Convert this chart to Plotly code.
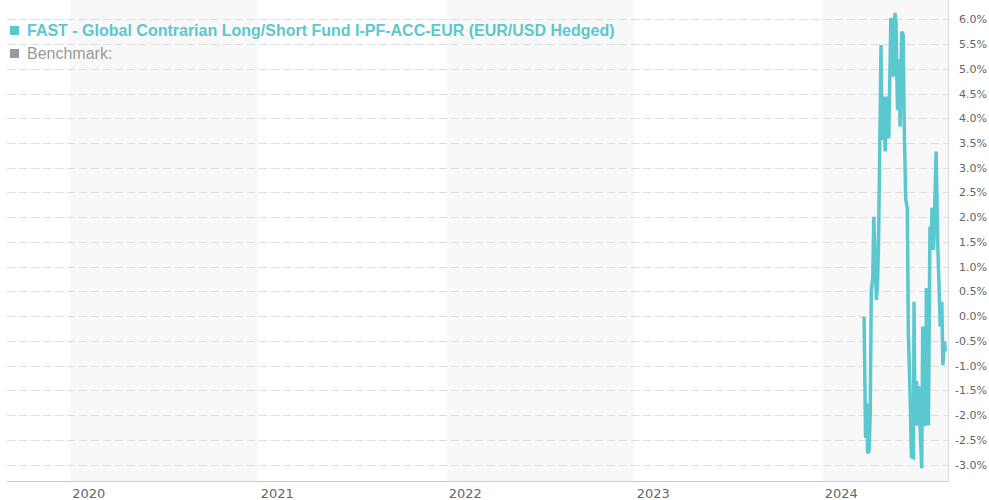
import plotly.graph_objects as go

# ---- data ----
fund_name = "FAST - Global Contrarian Long/Short Fund I-PF-ACC-EUR (EUR/USD Hedged)"
benchmark_name = "Benchmark:"

dates = [
    "2024-03-22", "2024-03-25", "2024-03-27", "2024-03-29", "2024-04-01", "2024-04-03",
    "2024-04-05", "2024-04-08", "2024-04-10", "2024-04-12", "2024-04-15", "2024-04-17",
    "2024-04-19", "2024-04-24", "2024-04-26", "2024-04-29", "2024-05-02", "2024-05-06",
    "2024-05-09", "2024-05-13", "2024-05-16", "2024-05-18", "2024-05-21", "2024-05-23",
    "2024-05-26", "2024-05-29", "2024-05-31", "2024-06-03", "2024-06-06", "2024-06-08",
    "2024-06-11", "2024-06-14", "2024-06-16", "2024-06-19", "2024-06-22", "2024-06-26",
    "2024-06-27", "2024-06-29", "2024-07-02", "2024-07-04", "2024-07-06", "2024-07-09",
    "2024-07-12", "2024-07-14", "2024-07-17", "2024-07-20", "2024-07-21", "2024-07-25",
    "2024-07-28", "2024-07-30", "2024-08-01", "2024-08-04", "2024-08-06", "2024-08-09",
    "2024-08-12", "2024-08-15", "2024-08-17", "2024-08-20", "2024-08-22", "2024-08-25",
    "2024-08-27",
]
values = [
    0.00, -2.45, -1.75, -2.76, -2.70, -1.95,
    0.50, 0.80, 2.02, 1.30, 0.34, 0.62,
    1.40, 5.49, 3.57, 4.45, 3.34, 4.45,
    3.60, 6.00, 6.00, 4.85, 6.14, 5.95,
    4.18, 5.20, 3.84, 5.76, 5.70, 3.84,
    2.36, 2.20, -0.33, -1.42, -2.83, -2.85,
    0.30, -2.20, -1.30, -2.20, -1.40, -2.30,
    -3.06, -0.20, -2.20, -2.15, 0.58, -2.20,
    1.82, 1.35, 2.20, 1.35, 2.10, 3.34,
    1.50, 0.50, -0.20, 0.30, -0.98, -0.50,
    -0.70,
]

year_ticks = ["2020-01-01", "2021-01-01", "2022-01-01", "2023-01-01", "2024-01-01"]
year_labels = ["2020", "2021", "2022", "2023", "2024"]
shaded_years = [("2020-01-01", "2021-01-01"), ("2022-01-01", "2023-01-01"), ("2024-01-01", "2024-09-01")]
y_ticks = [6.0, 5.5, 5.0, 4.5, 4.0, 3.5, 3.0, 2.5, 2.0, 1.5, 1.0, 0.5, 0.0,
           -0.5, -1.0, -1.5, -2.0, -2.5, -3.0]

x_range = ["2019-09-01", "2024-09-01"]
y_range = [-3.32, 6.40]

TEAL = "#5bc7cf"
GRAY = "#999999"

fig = go.Figure()
fig.add_trace(go.Scatter(
    x=dates, y=values, mode="lines",
    line=dict(color=TEAL, width=3.5),
    hoverinfo="skip", showlegend=False,
))

shapes = []
for x0, x1 in shaded_years:
    shapes.append(dict(type="rect", xref="x", yref="paper", x0=x0, x1=x1, y0=0, y1=1,
                       fillcolor="#f8f8f8", line=dict(width=0), layer="below"))
# legend squares
for i, col in enumerate([TEAL, GRAY]):
    cy = 30.5 + 23 * i
    shapes.append(dict(type="rect", xref="paper", yref="paper",
                       xsizemode="pixel", ysizemode="pixel", xanchor=0, yanchor=1,
                       x0=3, x1=12, y0=-(cy + 4.5), y1=-(cy - 4.5),
                       fillcolor=col, line=dict(width=0)))

annotations = []
annotations.append(dict(xref="paper", yref="paper", x=0, y=1, xanchor="left", yanchor="middle",
                        xshift=18, yshift=-30.5, showarrow=False,
                        text="<b>" + fund_name + "</b>",
                        font=dict(family="Liberation Sans", size=16, color=TEAL)))
annotations.append(dict(xref="paper", yref="paper", x=0, y=1, xanchor="left", yanchor="middle",
                        xshift=18, yshift=-53.5, showarrow=False,
                        text=benchmark_name,
                        font=dict(family="Liberation Sans", size=16, color=GRAY)))
for v in y_ticks:
    annotations.append(dict(xref="paper", yref="y", x=1, y=v, xanchor="right", yanchor="middle",
                            xshift=41, showarrow=False, text=f"{v:.1f}%",
                            font=dict(family="DejaVu Sans", size=11, color="#666666")))

fig.update_layout(
    width=989, height=500,
    margin=dict(l=7, r=41, t=0, b=19),
    paper_bgcolor="white", plot_bgcolor="white",
    shapes=shapes, annotations=annotations,
    showlegend=False,
    xaxis=dict(
        type="date", range=x_range,
        tickvals=year_ticks, ticktext=year_labels,
        ticklabelshift=19,
        showgrid=False, zeroline=False,
        showline=True, linecolor="#cccccc", linewidth=1,
        ticks="",
        tickfont=dict(family="DejaVu Sans", size=13, color="#666666"),
    ),
    yaxis=dict(
        range=y_range, side="right",
        tickvals=y_ticks, showticklabels=False,
        showgrid=True, gridcolor="#dddddd", griddash="8px,4px", gridwidth=1,
        zeroline=False,
        showline=True, linecolor="#dddddd", linewidth=1,
        ticks="",
    ),
)

fig.write_html("out.html", config={"displayModeBar": False},
               post_script="document.body.style.margin='0';document.body.style.overflow='hidden';")
